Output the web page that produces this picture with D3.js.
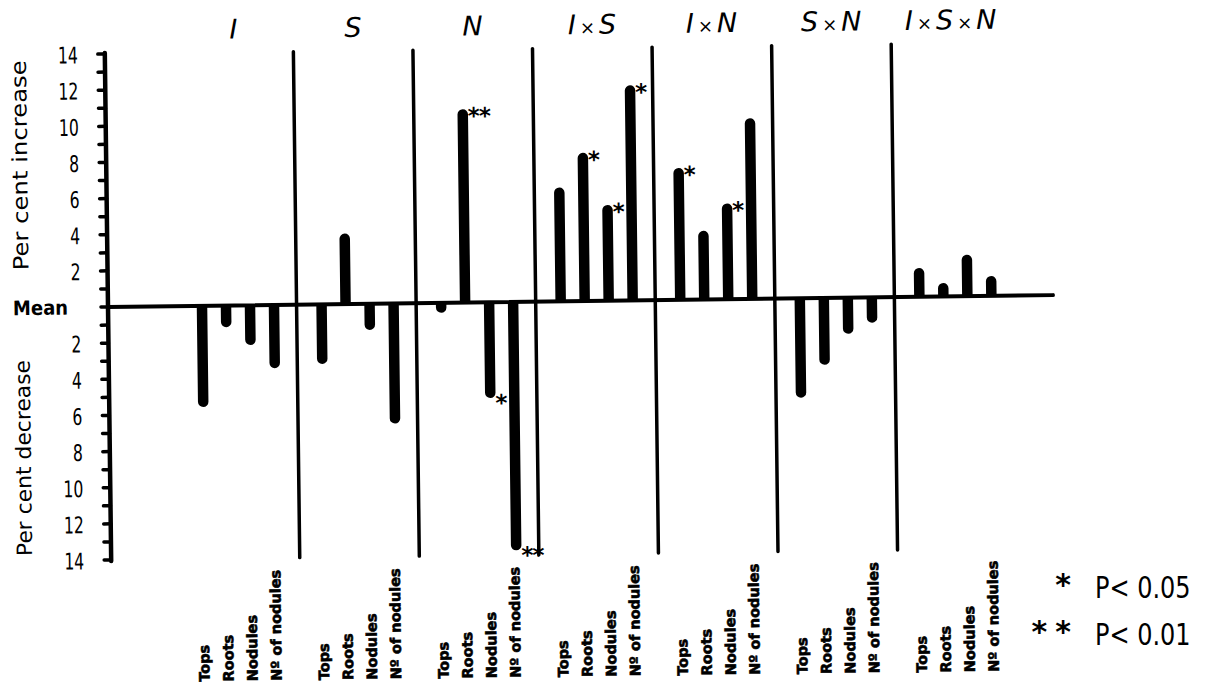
<!DOCTYPE html>
<html>
<head>
<meta charset="utf-8">
<script src="https://cdn.jsdelivr.net/npm/d3@7"></script>
<style>
  body { margin: 0; background: #fff; }
  text { fill: #000; font-family: "DejaVu Sans", sans-serif; }
</style>
</head>
<body>
<script>
// data
const groups = ["I", "S", "N", "I×S", "I×N", "S×N", "I×S×N"];
const measures = ["Tops", "Roots", "Nodules", "Nº of nodules"];
const topsVals    = [-5.6, -3.3, -0.55,  6.3,  7.3, -5.5, 1.6];
const rootsVals   = [-1.2,  3.9, 10.7,   8.2,  3.8, -3.7, 0.75];
const nodulesVals = [-2.2, -1.45, -5.3,  5.3,  5.3, -2.0, 2.3];
const nodNumVals  = [-3.5, -6.65, -13.75, 11.9, 10.0, -1.4, 1.1];
const topsSig    = ["", "", "", "", "*", "", ""];
const rootsSig   = ["", "", "**", "*", "", "", ""];
const nodulesSig = ["", "", "*", "*", "*", "", ""];
const nodNumSig  = ["", "", "**", "*", "", "", ""];
const yTicks = d3.range(-14, 15);
const yLabels = [-14, -12, -10, -8, -6, -4, -2, 0, 2, 4, 6, 8, 10, 12, 14];
const legendItems = [{ mark: "*", text: "P< 0.05" }, { mark: "**", text: "P< 0.01" }];

const series = [topsVals, rootsVals, nodulesVals, nodNumVals];
const sigSeries = [topsSig, rootsSig, nodulesSig, nodNumSig];

const W = 1208, H = 687;
const svg = d3.select("body").append("svg").attr("width", W).attr("height", H);

// scales
const x0 = d3.scaleBand().domain(groups).range([177, 1014]);
const x1 = d3.scalePoint().domain(measures).range([25, 97]);
const y = d3.scaleLinear().domain([-14, 14]).range([560, 54]);
const axisX = 108;

// the printed figure sits slightly skewed on the scan
const g = svg.append("g").attr("transform", "rotate(-0.72," + axisX + "," + y(0) + ")");

// axis line + ticks
g.append("line")
  .attr("x1", axisX).attr("x2", axisX)
  .attr("y1", y(14) - 1).attr("y2", y(-14) + 1)
  .attr("stroke", "#000").attr("stroke-width", 4.5).attr("stroke-linecap", "round");
g.selectAll(".tick").data(yTicks).enter().append("line")
  .attr("x1", axisX - 7).attr("x2", axisX)
  .attr("y1", d => y(d)).attr("y2", d => y(d))
  .attr("stroke", "#000").attr("stroke-width", 3.5).attr("stroke-linecap", "round");

// tick labels (condensed digits)
g.selectAll(".ylab").data(yLabels.filter(d => d !== 0)).enter().append("text")
  .attr("transform", d => "translate(81," + (y(d) + 9) + ") scale(0.68,1)")
  .attr("text-anchor", "end")
  .style("font-size", "23px")
  .text(d => Math.abs(d));
g.append("text")
  .attr("transform", "translate(68," + (y(0) + 7) + ") scale(0.9,1)")
  .attr("text-anchor", "end")
  .style("font-size", "20px").style("font-weight", "bold")
  .text("Mean");

// axis titles
g.append("text")
  .attr("transform", "translate(29," + y(7.9) + ") rotate(-90)")
  .attr("text-anchor", "middle")
  .attr("textLength", 210).attr("lengthAdjust", "spacingAndGlyphs")
  .style("font-size", "21px")
  .text("Per cent increase");
g.append("text")
  .attr("transform", "translate(29," + y(-8.3) + ") rotate(-90)")
  .attr("text-anchor", "middle")
  .attr("textLength", 196).attr("lengthAdjust", "spacingAndGlyphs")
  .style("font-size", "21px")
  .text("Per cent decrease");

// group separators
g.selectAll(".sep").data(groups.slice(1)).enter().append("line")
  .attr("x1", d => x0(d)).attr("x2", d => x0(d))
  .attr("y1", y(14)).attr("y2", y(-14))
  .attr("stroke", "#000").attr("stroke-width", 3.5).attr("stroke-linecap", "round");

// group titles
const titles = g.selectAll(".title").data(groups).enter().append("text")
  .attr("x", d => x0(d) + x0.bandwidth() / 2)
  .attr("y", 40)
  .attr("text-anchor", "middle")
  .style("font-size", "27px").style("font-style", "italic");
titles.each(function (d) {
  const t = d3.select(this);
  d.split("×").forEach((part, i) => {
    if (i > 0) t.append("tspan").attr("dx", 4).style("font-size", "18px").style("font-style", "normal").text("×");
    t.append("tspan").attr("dx", i > 0 ? 4 : 0).text(part);
  });
});

// bars
const bars = groups.flatMap((gr, i) => measures.map((m, j) => ({
  g: gr, m: m, v: series[j][i], s: sigSeries[j][i]
})));
const barW = 10.5;
function barPath(cx, v) {
  const r = barW / 2, y0 = y(0), y1 = y(v);
  const p = d3.path();
  p.moveTo(cx - r, y0);
  if (v >= 0) {
    const yt = Math.min(y1 + r, y0);
    p.lineTo(cx - r, yt);
    p.arc(cx, yt, r, Math.PI, 0);
  } else {
    const yb = Math.max(y1 - r, y0);
    p.lineTo(cx - r, yb);
    p.arc(cx, yb, r, Math.PI, 0, true);
  }
  p.lineTo(cx + r, y0);
  p.closePath();
  return p.toString();
}
g.selectAll(".bar").data(bars).enter().append("path")
  .attr("d", d => barPath(x0(d.g) + x1(d.m), d.v))
  .attr("fill", "#000");

// baseline
g.append("line")
  .attr("x1", axisX).attr("x2", 1053)
  .attr("y1", y(0)).attr("y2", y(0))
  .attr("stroke", "#000").attr("stroke-width", 4).attr("stroke-linecap", "round");

// significance marks
g.selectAll(".sig").data(bars.filter(d => d.s)).enter().append("text")
  .attr("x", d => x0(d.g) + x1(d.m) + 5)
  .attr("y", d => y(d.v) + (d.v >= 0 ? 15 : 13))
  .style("font-size", "23px").style("font-weight", "bold")
  .attr("letter-spacing", "-1px")
  .text(d => d.s);

// measure labels under each group
g.selectAll(".mlab").data(bars).enter().append("text")
  .attr("transform", d => "translate(" + (x0(d.g) + x1(d.m) - 2) + ",683) rotate(-90)")
  .attr("dominant-baseline", "central")
  .style("font-size", "14.5px").style("font-weight", "bold")
  .attr("stroke", "#000").attr("stroke-width", 0.6)
  .text(d => d.m);

// legend
const leg = svg.selectAll(".leg").data(legendItems).enter().append("g")
  .attr("transform", (d, i) => "translate(0," + (598 + i * 47) + ")");
leg.append("text")
  .attr("x", 1079).attr("y", -3)
  .attr("text-anchor", "end")
  .attr("letter-spacing", "8px")
  .style("font-size", "30px").style("font-weight", "bold")
  .text(d => d.mark);
leg.append("text")
  .attr("transform", "translate(1095,0) scale(0.8,1)")
  .style("font-size", "30px")
  .text(d => d.text);
</script>
</body>
</html>
